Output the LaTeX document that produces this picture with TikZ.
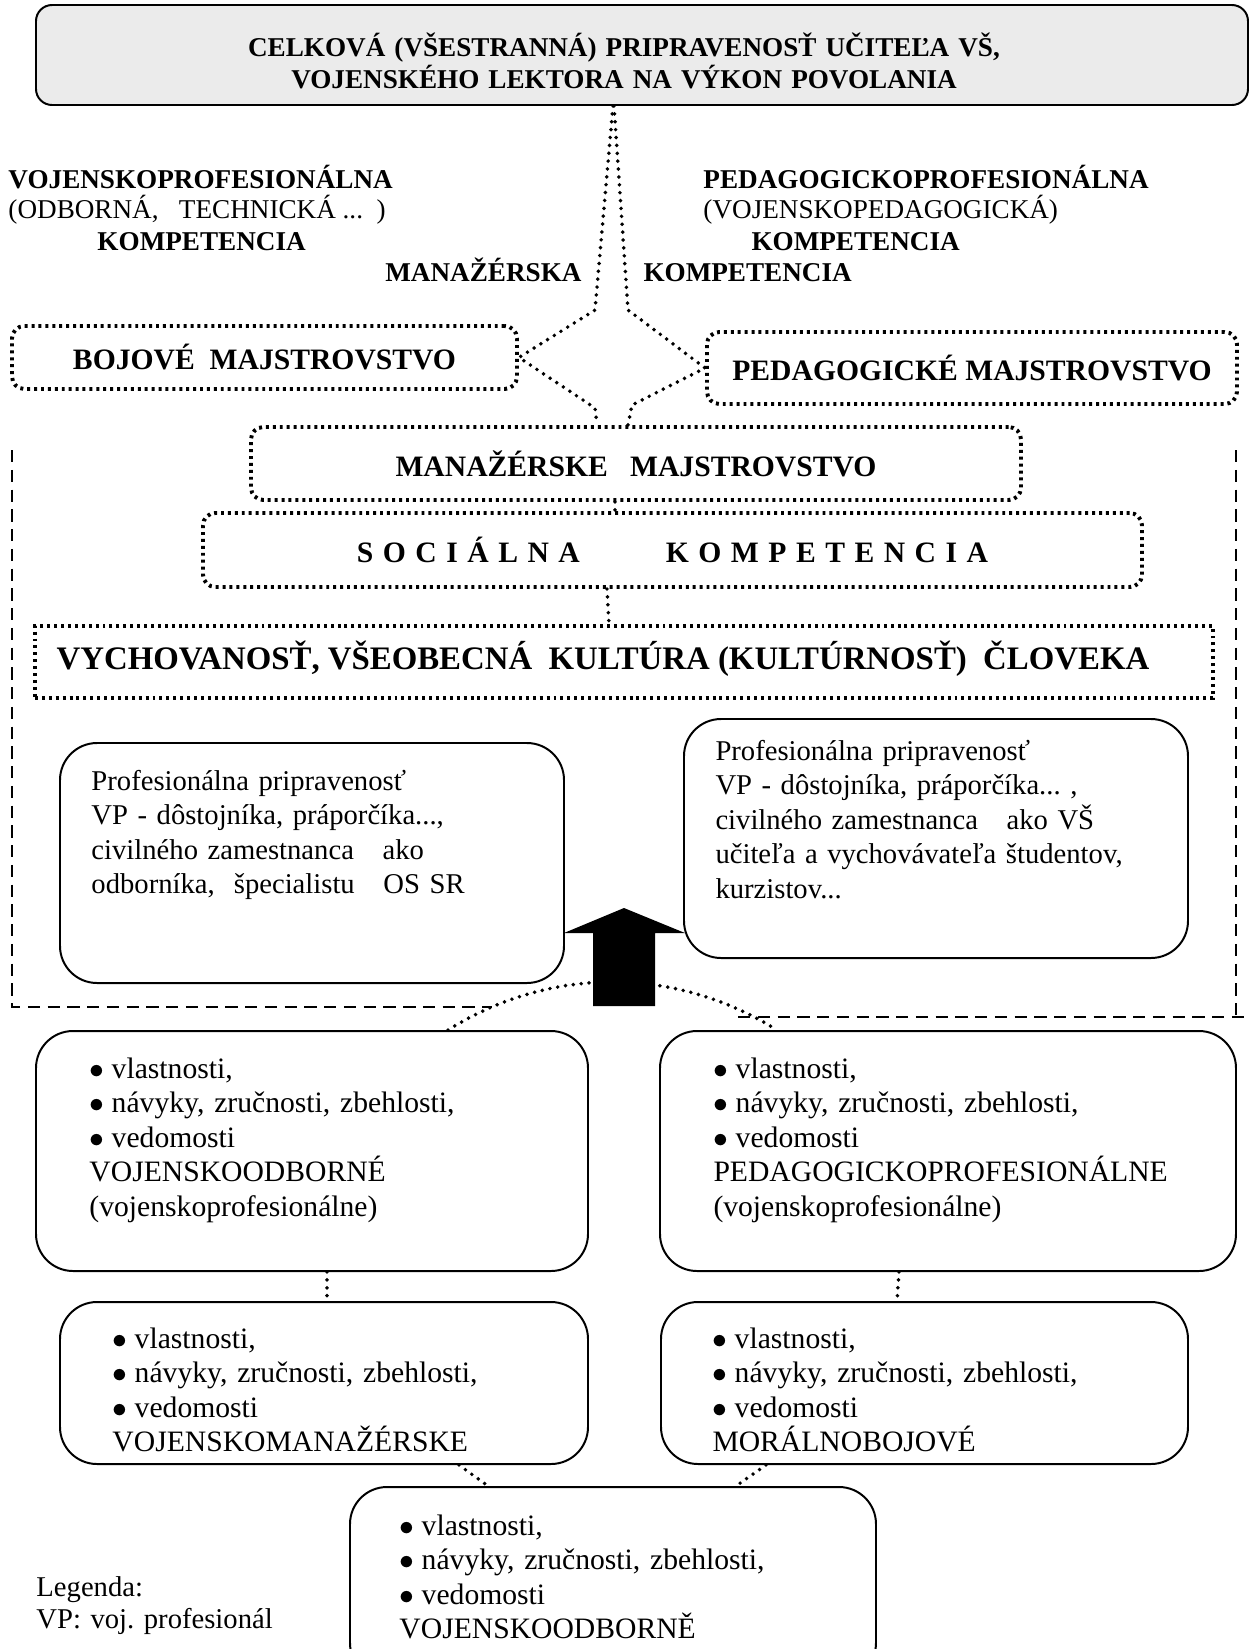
\documentclass[tikz,border=0pt]{standalone}
\usepackage{fontspec}
\setmainfont{Liberation Serif}
\usetikzlibrary{positioning}
\newcommand{\pxu}{0.405pt}
\newcommand{\bul}{$\bullet$\hspace{3pt}}
\newcommand{\hs}{\hspace{3.85pt}}

\begin{document}
\begin{tikzpicture}[x=0.405pt, y=-0.405pt,
    font=\fontsize{12}{14}\selectfont\frenchspacing,
    sz/.style 2 args={minimum width=#1*\pxu, minimum height=#2*\pxu},
    titlebox/.style={draw, line width=0.8pt, fill=black!8, rounded corners=6.5pt, inner sep=0pt},
    dotbox/.style={draw, line width=1.6pt, dash pattern=on 1.2pt off 1.6pt, rounded corners=5pt, inner sep=0pt, font=\fontsize{12}{14}\selectfont\bfseries},
    solidbox/.style={draw, line width=0.8pt, rounded corners=15pt, inner sep=0pt},
    head/.style={inner sep=0pt, font=\fontsize{11}{13}\selectfont\bfseries},
    lbl/.style={inner sep=0pt, font=\fontsize{11}{13}\selectfont},
    txt/.style={inner sep=0pt, anchor=base west, align=left, text width=#1},
    link/.style={line width=1.6pt, line cap=round, dash pattern=on 0pt off 3.2pt},
    frame/.style={line width=0.5pt, dash pattern=on 5pt off 3pt}
]
\useasboundingbox (0,0) rectangle (1250,1649);
\clip (0,0) rectangle (1250,1649);

\node[titlebox, sz={1212}{100}] (top) at (642,55) {};
\node[head, anchor=base, align=center, text width=420pt] (toptxt) at (624,56)
  {CELKOVÁ (VŠESTRANNÁ) PRIPRAVENOSŤ UČITEĽA VŠ,\\VOJENSKÉHO LEKTORA NA VÝKON POVOLANIA};

\node[head, anchor=base west] (vpk1) at (8,188) {VOJENSKOPROFESIONÁLNA};
\node[lbl, anchor=base west] (vpk2) at (8,218) {(ODBORNÁ,\ \ \ TECHNICKÁ ...\ \ )};
\node[head, anchor=base west] (vpk3) at (97,250) {KOMPETENCIA};
\node[head, anchor=base west] (ppk1) at (703,188) {PEDAGOGICKOPROFESIONÁLNA};
\node[lbl, anchor=base west] (ppk2) at (703,218) {(VOJENSKOPEDAGOGICKÁ)};
\node[head, anchor=base west] (ppk3) at (751,250) {KOMPETENCIA};
\node[head, anchor=base east] (mk1) at (582,281) {MANAŽÉRSKA};
\node[head, anchor=base west] (mk2) at (643,281) {KOMPETENCIA};

\node[dotbox, sz={505}{63}] (boj) at (264.5,357.5) {BOJOVÉ\ \ MAJSTROVSTVO};
\node[dotbox, sz={530}{72}] (ped) at (972,368) {PEDAGOGICKÉ MAJSTROVSTVO};
\node[dotbox, sz={770}{73}] (man) at (636,463.5) {MANAŽÉRSKE\ \ \ MAJSTROVSTVO};
\node[dotbox, sz={939}{74}] (soc) at (672.5,550)
  {S\hs O\hs C\hs I\hs Á\hs L\hs N\hs A\hspace{34.8pt}K\hs O\hs M\hs P\hs E\hs T\hs E\hs N\hs C\hs I\hs A};
\node[dotbox, rounded corners=0pt, sz={1178}{72}] (vych) at (624,662) {};
\node[inner sep=0pt, anchor=base, font=\fontsize{13.3}{15}\selectfont\bfseries] (vychtxt) at (603,669)
  {VYCHOVANOSŤ, VŠEOBECNÁ\ \ KULTÚRA (KULTÚRNOSŤ)\ \ ČLOVEKA};

\draw[link] (613,0 |- top.south) -- (595,310) -- (boj.east) -- (595,408) -- (597,0 |- man.north);
\draw[link] (614,0 |- top.south) -- (628,310) -- (ped.west) -- (632,405) -- (628,0 |- man.north);
\draw[link] (615,0 |- man.south) -- (615,0 |- soc.north);
\draw[link] (607,0 |- soc.south) -- (609,0 |- vych.north);

\draw[frame] (12,450) -- (12,1007) -- (492,1007);
\draw[frame] (1236,450) -- (1236,1017);
\draw[frame] (738,1017) -- (1250,1017);

\node[solidbox, sz={504}{240}] (profl) at (312,863) {};
\node[solidbox, sz={504}{239}] (profr) at (936,838.5) {};
\node[txt=200pt, font=\fontsize{11.6}{14}\selectfont\frenchspacing] (profltxt) at (91,790)
  {Profesionálna pripravenosť\\VP - dôstojníka, práporčíka...,\\civilného zamestnanca\ \ \ ako\\odborníka,\ \ špecialistu\ \ \ OS SR};
\node[txt=200pt, font=\fontsize{11.6}{14}\selectfont\frenchspacing] (profrtxt) at (715,760)
  {Profesionálna pripravenosť\\VP - dôstojníka, práporčíka... ,\\civilného zamestnanca\ \ \ ako VŠ\\učiteľa a vychovávateľa študentov,\\kurzistov...};

\node[solidbox, sz={552}{240}] (vl1) at (312,1151) {};
\node[solidbox, sz={576}{240}] (vr1) at (948,1151) {};
\node[solidbox, sz={528}{162}] (vl2) at (324,1383) {};
\node[solidbox, sz={527}{162}] (vr2) at (924.5,1383) {};
\node[solidbox, sz={526}{193}] (vb) at (613,1583.5) {};

\draw[link] (448,0 |- vl1.north) .. controls (550,966) and (675,966) .. (777,0 |- vr1.north);
\fill (593,1006) -- (655,1006) -- (655,933) -- (685,933) -- (624,908) -- (564,933) -- (593,933) -- cycle;

\node[txt=215pt] (vl1txt) at (89,1078)
  {\bul vlastnosti,\\\bul návyky, zručnosti, zbehlosti,\\\bul vedomosti\\VOJENSKOODBORNÉ\\(vojenskoprofesionálne)};
\node[txt=215pt] (vr1txt) at (713,1078)
  {\bul vlastnosti,\\\bul návyky, zručnosti, zbehlosti,\\\bul vedomosti\\PEDAGOGICKOPROFESIONÁLNE\\(vojenskoprofesionálne)};
\node[txt=200pt] (vl2txt) at (112,1348)
  {\bul vlastnosti,\\\bul návyky, zručnosti, zbehlosti,\\\bul vedomosti\\VOJENSKOMANAŽÉRSKE};
\node[txt=200pt] (vr2txt) at (712,1348)
  {\bul vlastnosti,\\\bul návyky, zručnosti, zbehlosti,\\\bul vedomosti\\MORÁLNOBOJOVÉ};
\node[txt=200pt] (vbtxt) at (399,1535)
  {\bul vlastnosti,\\\bul návyky, zručnosti, zbehlosti,\\\bul vedomosti\\VOJENSKOODBORNĚ};
\node[txt=120pt, font=\fontsize{11.6}{13}\selectfont\frenchspacing] (legend) at (36,1596) {Legenda:\\VP: voj. profesionál};

\draw[link] (327,0 |- vl1.south) -- (327,0 |- vl2.north);
\draw[link] (899,0 |- vr1.south) -- (897,0 |- vr2.north);
\draw[link] (459,0 |- vl2.south) -- (488,0 |- vb.north);
\draw[link] (766,0 |- vr2.south) -- (736,0 |- vb.north);
\end{tikzpicture}
\end{document}
